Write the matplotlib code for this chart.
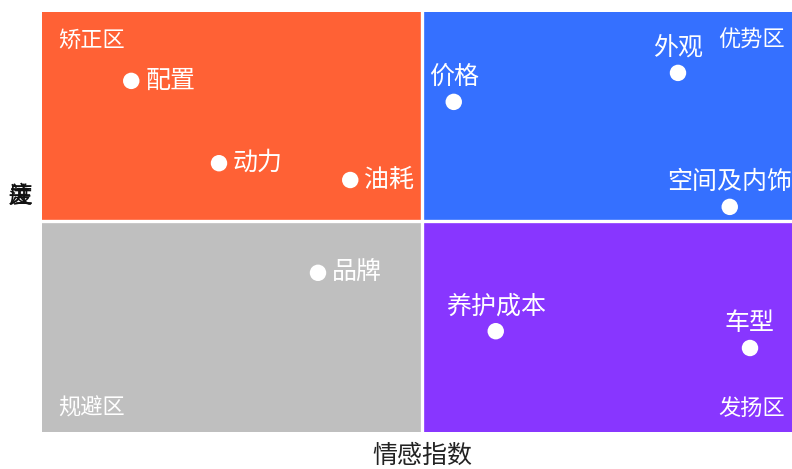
import matplotlib
matplotlib.use("Agg")
import matplotlib.pyplot as plt
from matplotlib.patches import Rectangle

plt.rcParams['font.family'] = ['Noto Sans CJK SC', 'DejaVu Sans']

names = ['配置', '动力', '油耗', '价格', '外观', '空间及内饰', '品牌', '养护成本', '车型']
sentiment = [11.9, 23.6, 41.1, 54.9, 84.8, 91.7, 36.8, 60.5, 94.4]
attention = [83.6, 64.0, 60.0, 78.6, 85.5, 53.6, 37.9, 24.0, 20.0]
label_side = ['right', 'right', 'right', 'top', 'top', 'top', 'right', 'top', 'top']

quad_names = ['矫正区', '优势区', '规避区', '发扬区']
quad_colors = ['#FF6135', '#3570FF', '#BFBFBF', '#8836FF']
x_mid, y_mid = 50.7, 50.2
x_max, y_max = 100, 100

fig = plt.figure(figsize=(7.92, 4.69), dpi=100)
ax = fig.add_axes([42/792, 37/469, 750/792, 420/469])
ax.set_xlim(0, x_max)
ax.set_ylim(0, y_max)

quads = [(0, y_mid, x_mid, y_max - y_mid), (x_mid, y_mid, x_max - x_mid, y_max - y_mid),
         (0, 0, x_mid, y_mid), (x_mid, 0, x_max - x_mid, y_mid)]
for (x0, y0, w, h), c in zip(quads, quad_colors):
    ax.add_patch(Rectangle((x0, y0), w, h, facecolor=c, edgecolor='none', zorder=1))
ax.axvline(x_mid, color='white', lw=2.4, zorder=2)
ax.axhline(y_mid, color='white', lw=2.4, zorder=2)

ax.scatter(sentiment, attention, s=140, color='white', zorder=3, edgecolors='none')
for n, x, y, side in zip(names, sentiment, attention, label_side):
    if side == 'right':
        ax.annotate(n, (x, y), xytext=(10, 0), textcoords='offset points',
                    ha='left', va='center', color='white', fontsize=18, zorder=4)
    else:
        ax.annotate(n, (x, y), xytext=(0, 8.5), textcoords='offset points',
                    ha='center', va='bottom', color='white', fontsize=18, zorder=4)

qfs = 16
ax.text(16/750, 1 - 28/420, quad_names[0], transform=ax.transAxes, ha='left', va='center',
        color='white', fontsize=qfs)
ax.text(1 - 7/750, 1 - 28/420, quad_names[1], transform=ax.transAxes, ha='right', va='center',
        color='white', fontsize=qfs)
ax.text(16/750, 24/420, quad_names[2], transform=ax.transAxes, ha='left', va='center',
        color='white', fontsize=qfs)
ax.text(1 - 7/750, 24/420, quad_names[3], transform=ax.transAxes, ha='right', va='center',
        color='white', fontsize=qfs)

for sp in ax.spines.values():
    sp.set_visible(False)
ax.set_xticks([])
ax.set_yticks([])

fig.text(422/792, 1 - 456/469, '情感指数', ha='center', va='center', fontsize=18, color='#222222')
for ch in ['关', '注', '度']:
    fig.text(20/792, 1 - 197/469, ch, ha='center', va='center', fontsize=17, color='#111111')

fig.savefig('out.png', dpi=100)
